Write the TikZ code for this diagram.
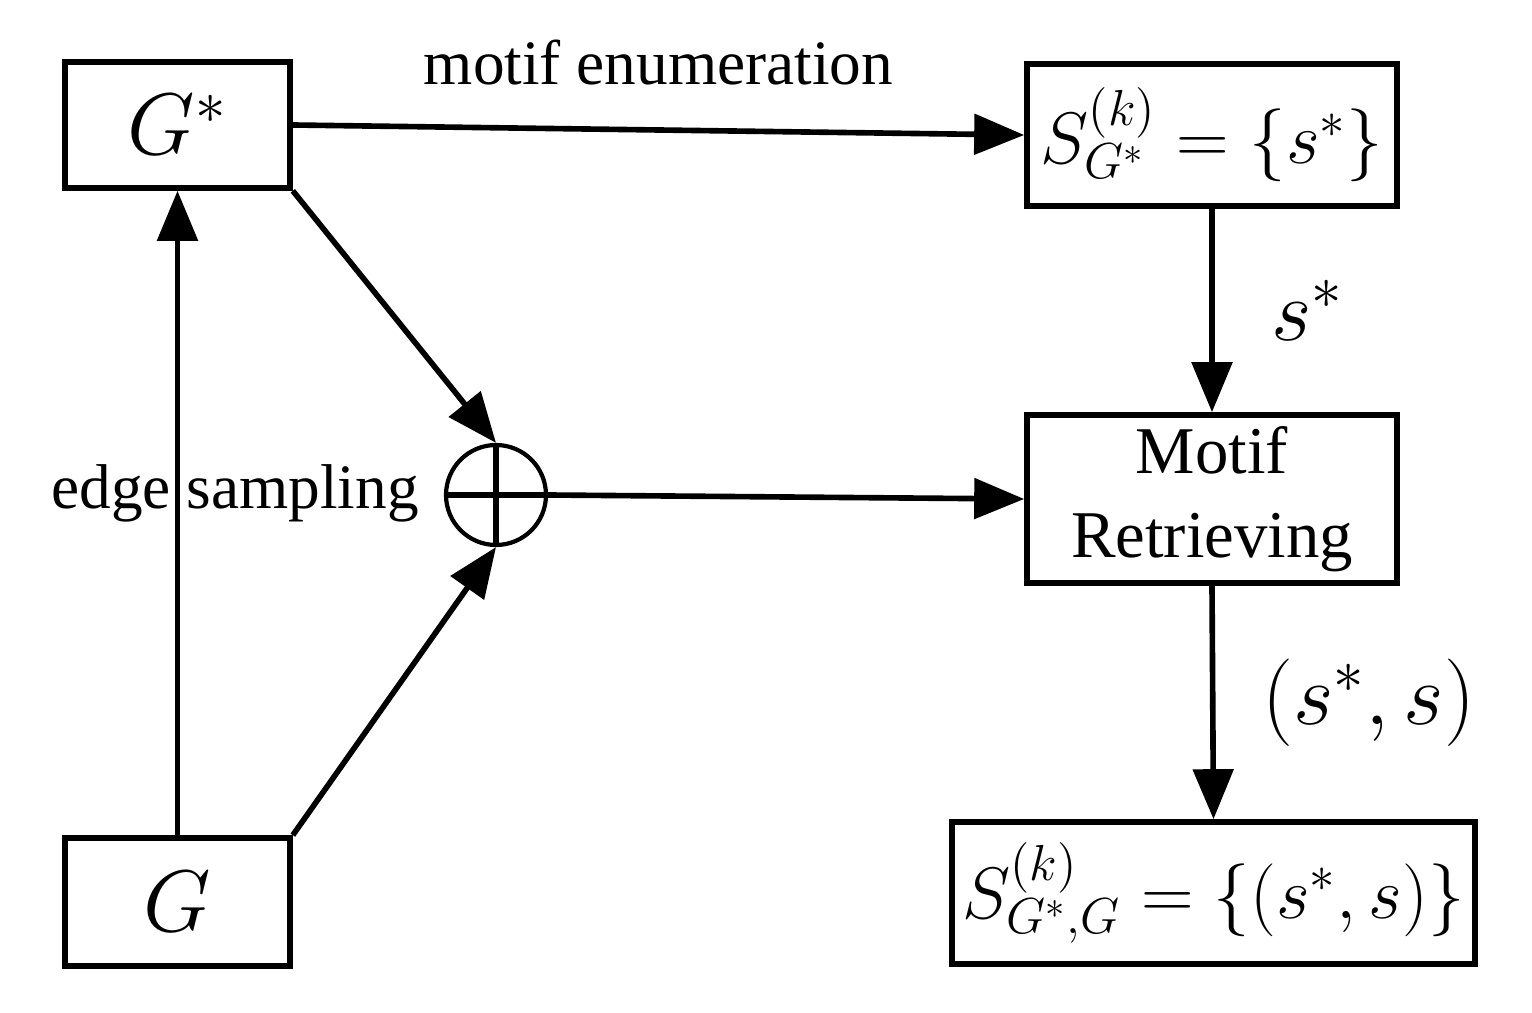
\documentclass[tikz,border=0pt]{standalone}
\usepackage{fontspec}
\setmainfont{Liberation Serif}
\usetikzlibrary{arrows.meta}
\begin{document}
\begin{tikzpicture}[x=1cm,y=1cm,
  box/.style={draw, line width=1.6pt, minimum width=#1, inner sep=0pt},
  flow/.style={line width=1.6pt, -{Triangle[length=5mm,width=4mm]}},
  font=\fontsize{18}{21}\selectfont]
\useasboundingbox (0,0) rectangle (15.32,10.13);
% boxes
\node[box=2.25cm, minimum height=1.26cm, font=\fontsize{24}{28}\selectfont] (gstar) at (1.775,8.88) {$G^{*}$};
\node[box=2.25cm, minimum height=1.28cm, font=\fontsize{24}{28}\selectfont] (g) at (1.775,1.11) {$G$};
\node[box=3.7cm, minimum height=1.42cm, font=\fontsize{21}{26}\selectfont] (sk) at (12.12,8.78) {$S^{(k)}_{G^{*}}=\{s^{*}\}$};
\node[box=3.7cm, minimum height=1.68cm, align=center, font=\fontsize{19}{24}\selectfont] (motif) at (12.12,5.14) {Motif\\Retrieving};
\node[box=5.23cm, minimum height=1.42cm, font=\fontsize{21}{26}\selectfont] (pairs) at (12.135,1.2) {$S^{(k)}_{G^{*},G}=\{(s^{*},s)\}$};
% combiner
\node[draw, circle, line width=1.2pt, minimum size=1cm, inner sep=0pt] (sum) at (4.96,5.18) {};
\draw[line width=1.6pt] (sum.north) -- (sum.south) (sum.west) -- (sum.east);
% connectors
\draw[flow] (gstar.east) -- node[above=0.3cm, pos=0.5]{motif enumeration} (sk.west);
\draw[flow] (g.north) -- (gstar.south);
\node at (2.35,5.2) {edge sampling};
\draw[flow] (gstar.south east) -- (sum.north);
\draw[flow] (g.north east) -- (sum.south);
\draw[flow] (sum.east) -- (motif.west);
\draw[flow] (sk.south) -- node[right=0.45cm, font=\fontsize{24}{28}\selectfont]{$s^{*}$} (motif.north);
\draw[flow] (motif.south) -- node[right=0.35cm, font=\fontsize{24}{28}\selectfont]{$(s^{*},s)$} (pairs.north);
\end{tikzpicture}
\end{document}
